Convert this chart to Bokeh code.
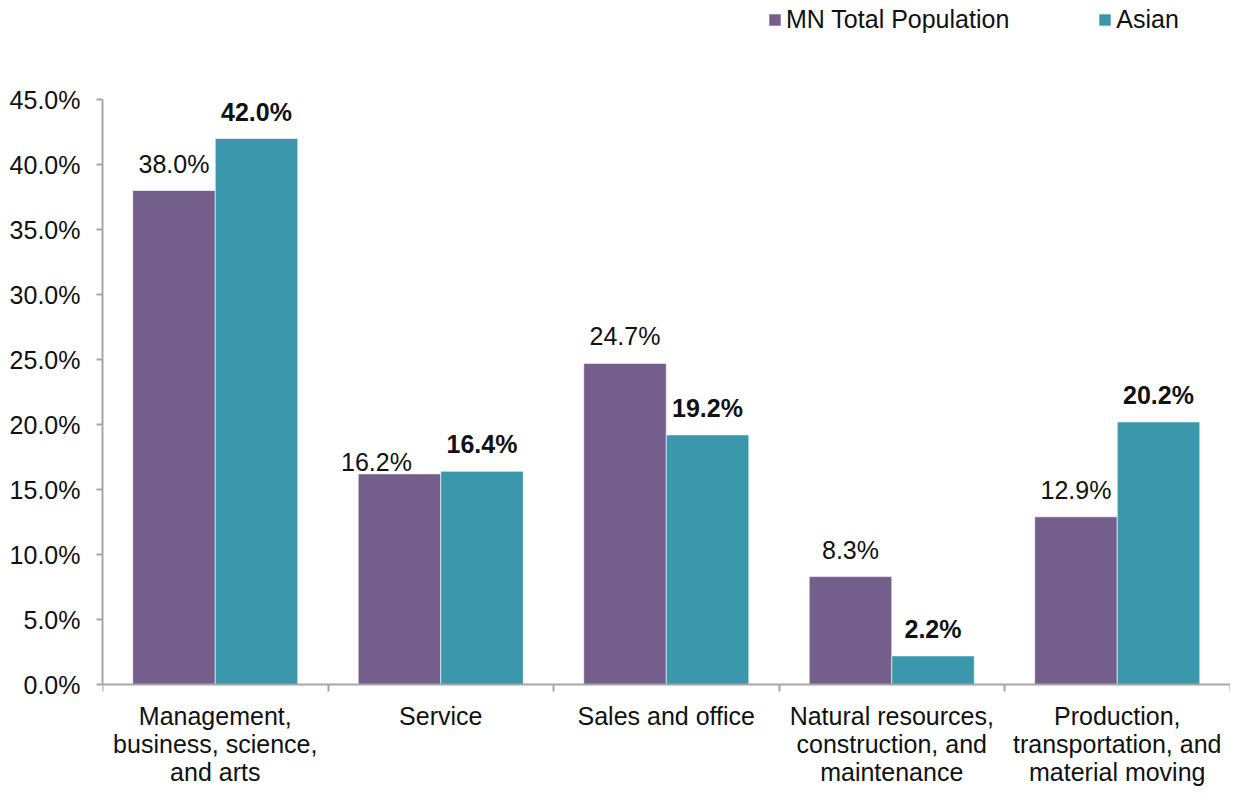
from bokeh.plotting import figure
from bokeh.models import (ColumnDataSource, Range1d, FixedTicker, PrintfTickFormatter,
                          LabelSet, Legend, LegendItem)
from bokeh.core.properties import value
from bokeh.embed import file_html
from bokeh.resources import INLINE

# ---------------- data ----------------
categories = [
    "Management,\nbusiness, science,\nand arts",
    "Service",
    "Sales and office",
    "Natural resources,\nconstruction, and\nmaintenance",
    "Production,\ntransportation, and\nmaterial moving",
]
mn_total = [38.0, 16.2, 24.7, 8.3, 12.9]
asian = [42.0, 16.4, 19.2, 2.2, 20.2]
series_names = ["MN Total Population", "Asian"]
y_ticks = [0, 5, 10, 15, 20, 25, 30, 35, 40, 45]

# ---------------- style / layout ----------------
FONT = "Liberation Sans"
PURPLE = "#745E8B"
TEAL = "#3A97AC"
AXIS = "#A6A6A6"
TXT = "#111111"
FS = "25px"
BAR_W = 0.366
OFF = 0.183
W, H = 1230, 786
LEFT = 102                       # frame left (px)
Y_TOP_PX, Y_ZERO_PX = 99, 684    # pixel rows of 45% and 0%
PX_PER_CAT = 225.5
LINE_STEP = 28                   # category label line spacing (px)
px_per_pct = (Y_ZERO_PX - Y_TOP_PX) / 45.0
y_start = -(H - Y_ZERO_PX) / px_per_pct
y_end = 45 + Y_TOP_PX / px_per_pct
x_end = (W - LEFT) / PX_PER_CAT

# small nudges of the MN labels (screen px) mimicking overlap avoidance
mn_nudge_x = [0, -23, 0, 0, 0]
mn_nudge_y = [0, -15, 0, 0, 0]

n = len(categories)
centers = [i + 0.5 for i in range(n)]

mn_src = ColumnDataSource(dict(
    x=[c - OFF for c in centers], top=mn_total,
    label=[f"{v:.1f}%" for v in mn_total],
    dx=mn_nudge_x, dy=[18 + d for d in mn_nudge_y]))
as_src = ColumnDataSource(dict(
    x=[c + OFF for c in centers], top=asian,
    label=[f"{v:.1f}%" for v in asian]))

# one entry per text line of each category name (so every line is centred)
cx, cy, ct, cdy = [], [], [], []
for c, name in zip(centers, categories):
    for k, line in enumerate(name.split("\n")):
        cx.append(c)
        cy.append(0)
        ct.append(line)
        cdy.append(-17 - LINE_STEP * k)
cat_src = ColumnDataSource(dict(x=cx, y=cy, text=ct, dy=cdy))

p = figure(width=W, height=H, output_backend="svg", toolbar_location=None,
           x_range=Range1d(0, x_end), y_range=Range1d(y_start, y_end),
           min_border_left=LEFT, min_border_right=0, min_border_top=0, min_border_bottom=0)
p.title.visible = False
p.outline_line_color = None
p.xgrid.visible = False
p.ygrid.visible = False
p.background_fill_color = "white"

r_mn = p.vbar(x="x", top="top", width=BAR_W, bottom=0, source=mn_src,
              fill_color=PURPLE, line_color="white", line_width=1, line_alpha=0.6)
r_as = p.vbar(x="x", top="top", width=BAR_W, bottom=0, source=as_src,
              fill_color=TEAL, line_color="white", line_width=1, line_alpha=0.6)

# value labels
p.add_layout(LabelSet(x="x", y="top", text="label", source=mn_src,
                      x_offset="dx", y_offset="dy",
                      text_align="center", text_baseline="alphabetic",
                      text_font=value(FONT), text_font_size=FS, text_color=TXT))
p.add_layout(LabelSet(x="x", y="top", text="label", source=as_src,
                      y_offset=18, text_align="center", text_baseline="alphabetic",
                      text_font=value(FONT), text_font_size=FS, text_font_style="bold",
                      text_color=TXT))

# category labels below the axis
p.add_layout(LabelSet(x="x", y="y", y_offset="dy", text="text", source=cat_src,
                      text_align="center", text_baseline="top",
                      text_font=value(FONT), text_font_size=FS, text_color=TXT))

# y axis
ya = p.yaxis[0]
ya.bounds = (0, 45)
ya.ticker = FixedTicker(ticks=y_ticks)
ya.formatter = PrintfTickFormatter(format="%.1f%%")
ya.axis_line_color = AXIS
ya.axis_line_width = 2
ya.major_tick_line_color = AXIS
ya.major_tick_line_width = 2
ya.major_tick_out = 6
ya.major_tick_in = 0
ya.minor_tick_line_color = None
ya.major_label_standoff = 16
ya.major_label_text_font = FONT
ya.major_label_text_font_size = FS
ya.major_label_text_color = TXT

# x axis at 0%: ticks at category boundaries, no labels
xa = p.xaxis[0]
xa.fixed_location = 0
xa.ticker = FixedTicker(ticks=list(range(n + 1)))
xa.axis_line_color = AXIS
xa.axis_line_width = 2
xa.major_tick_line_color = AXIS
xa.major_tick_line_width = 2
xa.major_tick_out = 7
xa.major_tick_in = 0
xa.minor_tick_line_color = None
xa.major_label_text_color = None
xa.major_label_text_font_size = "10px"

legend = Legend(items=[LegendItem(label=series_names[0], renderers=[r_mn]),
                       LegendItem(label=series_names[1], renderers=[r_as])],
                orientation="horizontal", location=(665, H - 34),
                glyph_width=15, glyph_height=15, label_standoff=4, spacing=88,
                padding=0, margin=0, border_line_color=None, background_fill_alpha=0,
                label_text_font=FONT, label_text_font_size=FS, label_text_color=TXT)
p.add_layout(legend, "center")

open("out.html", "w").write(file_html(p, INLINE))
